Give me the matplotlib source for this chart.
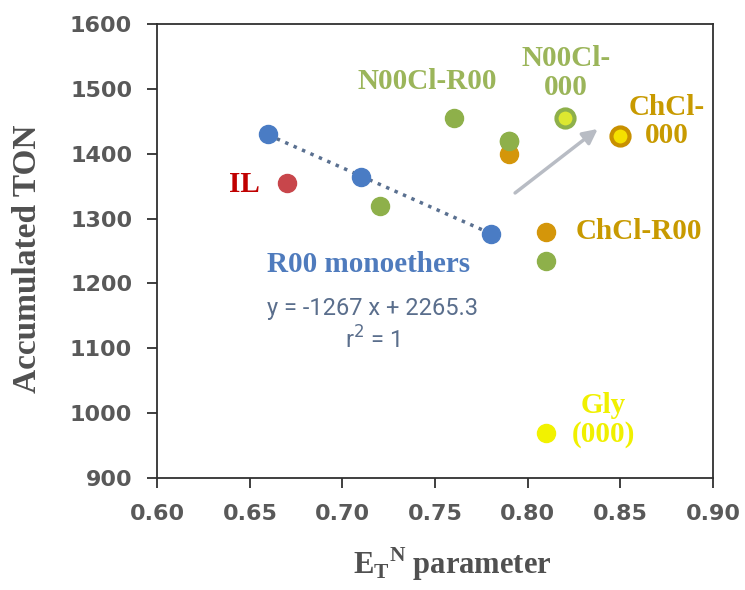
import matplotlib
matplotlib.use("Agg")
import matplotlib.pyplot as plt
import numpy as np

# Data
r00_x = [0.66, 0.71, 0.78]
r00_y = [1430, 1365, 1277]
il_x = [0.67]
il_y = [1355]
n00_x = [0.72, 0.76, 0.79, 0.81]
n00_y = [1320, 1455, 1420, 1235]
n00_000_x = [0.82]
n00_000_y = [1455]
chcl_x = [0.79, 0.81]
chcl_y = [1400, 1280]
chcl_000_x = [0.85]
chcl_000_y = [1428]
gly_x = [0.81]
gly_y = [970]
fit_slope = -1267
fit_intercept = 2265.3

xticks = [0.60, 0.65, 0.70, 0.75, 0.80, 0.85, 0.90]
yticks = [900, 1000, 1100, 1200, 1300, 1400, 1500, 1600]

fig = plt.figure(figsize=(7.45, 5.9), dpi=100)
ax = fig.add_axes([0.211, 0.190, 0.746, 0.769])

blue = "#4A7CC4"
red = "#C8464B"
green = "#8EB04A"
orange = "#D4960A"
ms = 13

ax.plot(r00_x, [fit_slope * x + fit_intercept for x in r00_x], ls=":", color="#5A7090", lw=2.5, zorder=2)
ax.plot(r00_x, r00_y, "o", color=blue, ms=ms, zorder=3)
ax.plot(il_x, il_y, "o", color=red, ms=ms, zorder=3)
ax.plot(n00_x, n00_y, "o", color=green, ms=ms, zorder=3)
ax.plot(chcl_x, chcl_y, "o", color=orange, ms=ms, zorder=3)
ax.plot(n00_x[2:3], n00_y[2:3], "o", color=green, ms=ms, zorder=3)
ax.plot(n00_000_x, n00_000_y, "o", color="#DDE830", mec=green, mew=3, ms=ms, zorder=3)
ax.plot(chcl_000_x, chcl_000_y, "o", color="#F5E000", mec="#C89000", mew=3, ms=ms, zorder=3)
ax.plot(gly_x, gly_y, "o", color="#F2F200", ms=ms, zorder=3)

ax.annotate("", xy=(0.839, 1441), xytext=(0.792, 1337),
            arrowprops=dict(arrowstyle="-|>", color="#B8BCC4", lw=2.5, mutation_scale=22))

serif = "Liberation Serif"
fs = 21
ax.text(0.7457, 1512, "N00Cl-R00", color="#9BB55A", fontsize=fs, fontweight="bold", family=serif, ha="center", va="center")
ax.text(0.8207, 1525, "N00Cl-\n000", color="#9BB55A", fontsize=fs, fontweight="bold", family=serif, ha="center", va="center", linespacing=1.08)
ax.text(0.875, 1450, "ChCl-\n000", color="#C89A00", fontsize=fs, fontweight="bold", family=serif, ha="center", va="center", linespacing=1.08)
ax.text(0.8256, 1280, "ChCl-R00", color="#C89A00", fontsize=fs, fontweight="bold", family=serif, ha="left", va="center")
ax.text(0.647, 1352, "IL", color="#C00000", fontsize=fs, fontweight="bold", family=serif, ha="center", va="center")
ax.text(0.714, 1230, "R00 monoethers", color="#4F7BBD", fontsize=fs, fontweight="bold", family=serif, ha="center", va="center")
ax.text(0.716, 1162, "y = -1267 x + 2265.3", color="#5A6E8C", fontsize=17, family="Roboto", ha="center", va="center")
ax.text(0.716, 1112, "r$^2$ = 1", color="#5A6E8C", fontsize=17, family="Roboto", ha="center", va="center")
ax.text(0.841, 990, "Gly\n(000)", color="#F0F000", fontsize=fs, fontweight="bold", family=serif, ha="center", va="center", linespacing=1.08)

ax.set_xlim(0.60, 0.90)
ax.set_ylim(900, 1600)
ax.set_xticks(xticks)
ax.set_yticks(yticks)
ax.set_xticklabels([f"{v:.2f}" for v in xticks])
ax.set_yticklabels([str(v) for v in yticks])
for lab in ax.get_xticklabels() + ax.get_yticklabels():
    lab.set_fontweight("bold")
    lab.set_fontsize(16)
    lab.set_color("#595959")
ax.tick_params(direction="out", length=7, width=1.3, color="#303030")
ax.tick_params(axis="x", pad=12)
ax.tick_params(axis="y", pad=11)
for sp in ax.spines.values():
    sp.set_color("#303030")
    sp.set_linewidth(1.3)

ax.set_ylabel("Accumulated TON", fontsize=24, fontweight="bold", family=serif, color="#505050")
ax.yaxis.set_label_coords(-0.205, 0.482)
ax.set_xlabel("E$_\\mathregular{T}$$^\\mathregular{N}$ parameter", fontsize=22, fontweight="bold", family=serif, color="#505050")
ax.xaxis.set_label_coords(0.53, -0.148)

fig.savefig("out.png", dpi=100)
